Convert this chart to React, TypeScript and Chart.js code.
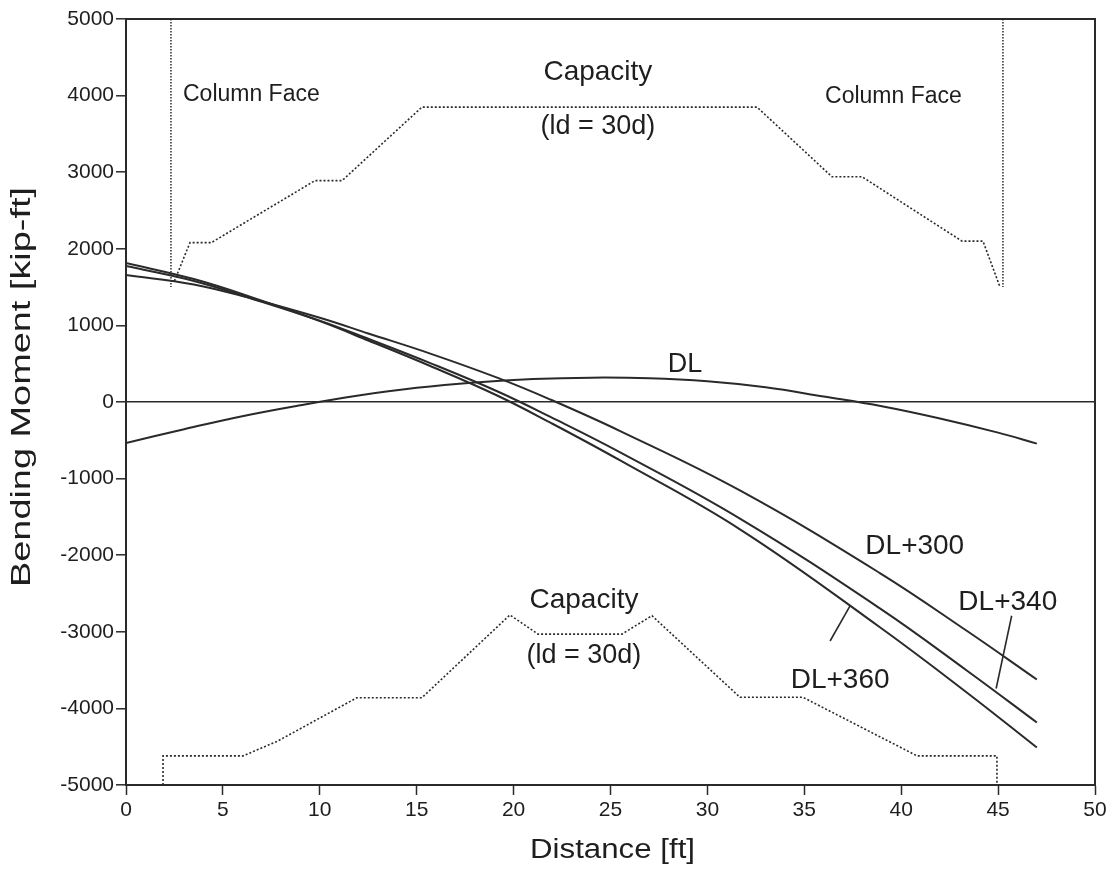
import React, { useEffect, useRef } from 'react';
import { Chart, registerables } from 'chart.js';

Chart.register(...registerables);

// ---- data ----
const curveX = [0, 3.5, 6.55, 10, 12.5, 15.7, 19.15, 21.9, 25.5, 31.7, 38.9, 43.4, 47];
const dl300 = [1658, 1535, 1345, 1100, 895, 632, 318, 32, -380, -1158, -2233, -2990, -3623];
const dl340 = [1775, 1580, 1345, 1062, 825, 508, 140, -195, -658, -1525, -2694, -3508, -4184];
const dl360 = [1815, 1605, 1362, 1055, 803, 470, 85, -270, -763, -1665, -2940, -3795, -4511];

const dlX = [0, 3, 6, 9, 12, 15, 18, 21, 24, 27, 30, 33, 36, 39, 42, 45, 47];
const dlY = [-535, -355, -185, -42, 85, 185, 255, 300, 318, 310, 270, 192, 72, -55, -215, -400, -543];

const capUpX = [2.5, 3.3, 4.4, 9.75, 11.15, 15.27, 32.56, 36.43, 37.98, 43.14, 44.22, 45.1];
const capUpY = [1580, 2080, 2080, 2890, 2890, 3850, 3850, 2940, 2940, 2100, 2100, 1500];

const capLoX = [1.91, 1.91, 6.04, 7.8, 11.92, 15.27, 19.81, 21.26, 25.59, 27.14, 31.68, 34.93, 40.82, 44.94, 44.94];
const capLoY = [-5000, -4620, -4620, -4430, -3860, -3860, -2780, -3030, -3030, -2790, -3855, -3855, -4620, -4620, -5000];

const faceLeftX = [2.32, 2.32];
const faceLeftY = [5000, 1500];
const faceRightX = [45.25, 45.25];
const faceRightY = [5000, 1500];

const lead340X = [45.7, 44.9];
const lead340Y = [-2790, -3740];
const lead360X = [37.36, 36.33];
const lead360Y = [-2661, -3120];

const xTicks = [0, 5, 10, 15, 20, 25, 30, 35, 40, 45, 50];
const yTicks = [-5000, -4000, -3000, -2000, -1000, 0, 1000, 2000, 3000, 4000, 5000];

const noteText = ['Column Face', 'Column Face', 'Capacity', '(ld = 30d)', 'DL', 'DL+300', 'DL+340', 'DL+360', 'Capacity', '(ld = 30d)'];
const noteX = [2.94, 36.07, 24.35, 24.35, 28.85, 40.7, 45.5, 36.85, 23.63, 23.63];
const noteY = [4008, 3982, 4310, 3590, 483, -1880, -2611, -3629, -2585, -3316];

const xTitle = 'Distance [ft]';
const yTitle = 'Bending Moment [kip-ft]';

// ---- styles ----
const INK = '#2a2a2a';
const FONT = '"Liberation Sans", Arial, sans-serif';
const noteSize = [23, 23, 28, 27, 27, 28, 28, 28, 28, 27];
const noteAlign = ['left', 'left', 'center', 'center', 'center', 'center', 'center', 'center', 'center', 'center'];

const pts = (xs: number[], ys: number[]) => xs.map((x, i) => ({ x, y: ys[i] }));

function stretchedText(ctx: CanvasRenderingContext2D, text: string, cx: number, cy: number, targetW: number, size: number, rot: number) {
  ctx.save();
  ctx.font = `${size}px ${FONT}`;
  const w = ctx.measureText(text).width;
  ctx.translate(cx, cy);
  ctx.rotate(rot);
  ctx.scale(targetW / w, 1);
  ctx.textAlign = 'center';
  ctx.textBaseline = 'middle';
  ctx.fillText(text, 0, 0);
  ctx.restore();
}

const decor = {
  id: 'decor',
  afterDatasetsDraw(chart: any) {
    const { ctx, chartArea: a, scales } = chart;
    const xs = scales.x, ys = scales.y;
    ctx.save();
    ctx.strokeStyle = INK;
    ctx.lineWidth = 2;
    ctx.strokeRect(a.left, a.top, a.right - a.left, a.bottom - a.top);
    ctx.fillStyle = '#1e1e1e';
    ctx.textBaseline = 'middle';
    noteText.forEach((t, i) => {
      ctx.font = `${noteSize[i]}px ${FONT}`;
      ctx.textAlign = noteAlign[i] as CanvasTextAlign;
      ctx.fillText(t, xs.getPixelForValue(noteX[i]), ys.getPixelForValue(noteY[i]));
    });
    stretchedText(ctx, xTitle, (a.left + a.right) / 2 + 2, a.bottom + 66, 165, 27, 0);
    stretchedText(ctx, yTitle, 23, a.top + 368, 400, 27, -Math.PI / 2);
    ctx.restore();
  },
};

export default function App() {
  const ref = useRef<HTMLCanvasElement | null>(null);
  useEffect(() => {
    if (!ref.current) return;
    const solid = (data: any, w = 2) => ({
      data, borderColor: INK, borderWidth: w, pointRadius: 0, fill: false,
      tension: 0.4,
    });
    const dotted = (data: any, dash: number[], w = 1.6) => ({
      data, borderColor: INK, borderWidth: w, pointRadius: 0, fill: false,
      tension: 0, borderDash: dash,
    });
    const chart = new Chart(ref.current, {
      type: 'line',
      data: {
        datasets: [
          solid(pts(curveX, dl300)),
          solid(pts(curveX, dl340)),
          solid(pts(curveX, dl360)),
          solid(pts(dlX, dlY)),
          dotted(pts(capUpX, capUpY), [2, 2]),
          dotted(pts(capLoX, capLoY), [2, 2]),
          dotted(pts(faceLeftX, faceLeftY), [1.5, 1.5], 1.5),
          dotted(pts(faceRightX, faceRightY), [1.5, 1.5], 1.5),
          { ...solid(pts(lead340X, lead340Y), 1.6), tension: 0 },
          { ...solid(pts(lead360X, lead360Y), 1.6), tension: 0 },
        ] as any,
      },
      options: {
        responsive: false,
        animation: false,
        events: [],
        layout: { padding: { left: 0, right: 19, top: 19, bottom: 0 } },
        plugins: { legend: { display: false }, tooltip: { enabled: false } },
        scales: {
          x: {
            type: 'linear', min: 0, max: 50,
            afterBuildTicks: (s: any) => { s.ticks = xTicks.map((v) => ({ value: v })); },
            afterFit: (s: any) => { s.height = 87; },
            border: { display: true, color: INK, width: 2 },
            grid: { color: 'transparent', drawOnChartArea: false, tickColor: INK, tickLength: 10, tickWidth: 1.5 } as any,
            ticks: { color: '#1e1e1e', font: { family: FONT, size: 21 }, padding: 3, maxRotation: 0, callback: (v: any) => String(v) },
          },
          y: {
            type: 'linear', min: -5000, max: 5000,
            afterBuildTicks: (s: any) => { s.ticks = yTicks.map((v) => ({ value: v })); },
            afterFit: (s: any) => { s.width = 126; },
            border: { display: true, color: INK, width: 2 },
            grid: {
              color: (c: any) => (c.tick && c.tick.value === 0 ? INK : 'transparent'),
              lineWidth: 1.6,
              tickColor: INK, tickLength: 10, tickWidth: 1.5,
            } as any,
            ticks: { color: '#1e1e1e', font: { family: FONT, size: 21 }, padding: 2, callback: (v: any) => String(v) },
          },
        },
      },
      plugins: [decor],
    });
    return () => chart.destroy();
  }, []);
  return (
    <div style={{ position: 'absolute', left: 0, top: 0, width: 1114, height: 872, background: '#fff' }}>
      <canvas ref={ref} width={1114} height={872} />
    </div>
  );
}
